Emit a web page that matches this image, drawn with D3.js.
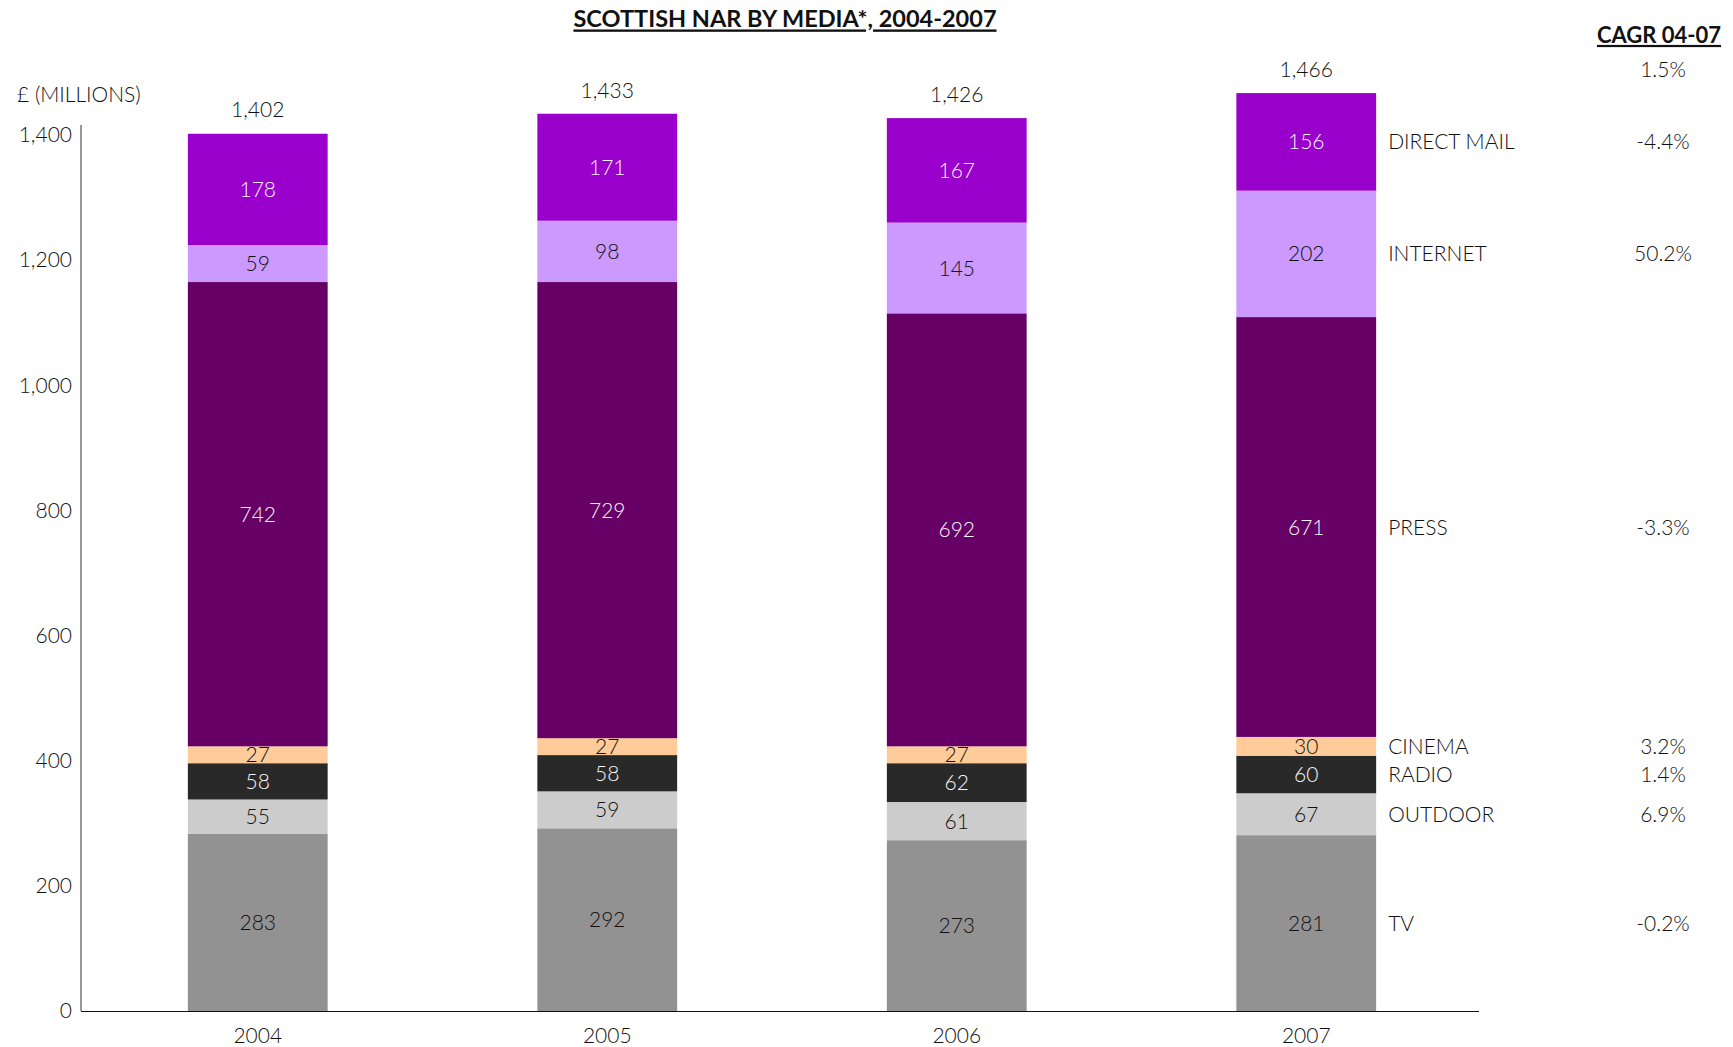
<!DOCTYPE html>
<html>
<head>
<meta charset="utf-8">
<script src="https://cdn.jsdelivr.net/npm/d3@7"></script>
<style>
  html, body { margin: 0; padding: 0; background: #fff; }
  svg { display: block; font-family: Lato, "Open Sans", sans-serif; font-weight: 300; }
</style>
</head>
<body>
<svg id="chart" width="1733" height="1047"></svg>
<script>
// Scottish NAR by media, £ millions
const years = ["2004", "2005", "2006", "2007"];
const media = ["TV", "OUTDOOR", "RADIO", "CINEMA", "PRESS", "INTERNET", "DIRECT MAIL"];
const tv         = [283, 292, 273, 281];
const outdoor    = [55, 59, 61, 67];
const radio      = [58, 58, 62, 60];
const cinema     = [27, 27, 27, 30];
const press      = [742, 729, 692, 671];
const internet   = [59, 98, 145, 202];
const directMail = [178, 171, 167, 156];
const totals     = [1402, 1433, 1426, 1466];
const cagr       = ["-0.2%", "6.9%", "1.4%", "3.2%", "-3.3%", "50.2%", "-4.4%"];
const cagrTotal  = "1.5%";
const yTicks     = [0, 200, 400, 600, 800, 1000, 1200, 1400];

const seriesValues = [tv, outdoor, radio, cinema, press, internet, directMail];
const fills  = ["#929292", "#cccccc", "#292929", "#ffcc99", "#660066", "#cc99ff", "#9900cc"];
const inks   = ["#111111", "#111111", "#f5f5f5", "#111111", "#f5f5f5", "#111111", "#f5f5f5"];

const rows = years.map((yr, i) => {
  const r = { year: yr };
  media.forEach((m, k) => { r[m] = seriesValues[k][i]; });
  return r;
});
const stacked = d3.stack().keys(media)(rows);

const svg = d3.select("#chart");
const plotLeft = 81, plotRight = 1479, plotTop = 125, plotBottom = 1011;
const fs = 21;
const ink = "#111111";

const x = d3.scaleBand().domain(years).range([plotLeft + 2, plotRight + 2]).paddingInner(0.6).paddingOuter(0.3);
const y = d3.scaleLinear().domain([0, 1400]).range([plotBottom, 135]);

// stacked segments
const layer = svg.append("g").selectAll("g").data(stacked).join("g")
  .attr("fill", (d, k) => fills[k]);
layer.selectAll("rect").data(d => d).join("rect")
  .attr("x", d => x(d.data.year))
  .attr("width", x.bandwidth())
  .attr("y", d => y(d[1]))
  .attr("height", d => y(d[0]) - y(d[1]));

// values inside segments
const vl = svg.append("g").attr("font-size", fs).attr("text-anchor", "middle");
stacked.forEach((s, k) => {
  vl.selectAll(null).data(s).join("text")
    .attr("x", d => x(d.data.year) + x.bandwidth() / 2)
    .attr("y", d => y((d[0] + d[1]) / 2))
    .attr("dy", "0.36em")
    .attr("fill", inks[k])
    .text(d => d[1] - d[0]);
});

// totals above bars
svg.append("g").attr("font-size", fs).attr("text-anchor", "middle").attr("fill", ink)
  .selectAll("text").data(years).join("text")
  .attr("x", yr => x(yr) + x.bandwidth() / 2)
  .attr("y", (yr, i) => y(totals[i]) - 24)
  .attr("dy", "0.36em")
  .text((yr, i) => d3.format(",")(totals[i]));

// y axis
const yAxis = svg.append("g").attr("transform", `translate(${plotLeft},0)`)
  .call(d3.axisLeft(y).tickValues(yTicks).tickSize(0).tickPadding(9).tickFormat(d3.format(",")))
  .attr("font-family", null).attr("font-size", fs);
yAxis.select(".domain").remove();
yAxis.selectAll("text").attr("fill", ink);
svg.append("line").attr("x1", plotLeft).attr("x2", plotLeft).attr("y1", plotTop).attr("y2", plotBottom)
  .attr("stroke", "#333").attr("stroke-width", 1);

// x axis
const xAxis = svg.append("g").attr("transform", `translate(0,${plotBottom})`)
  .call(d3.axisBottom(x).tickSize(0).tickPadding(17))
  .attr("font-family", null).attr("font-size", fs);
xAxis.select(".domain").remove();
xAxis.selectAll("text").attr("fill", ink);
svg.append("line").attr("x1", plotLeft).attr("x2", plotRight).attr("y1", plotBottom + 0.5).attr("y2", plotBottom + 0.5)
  .attr("stroke", "#111").attr("stroke-width", 1.2);

// series names and growth rates beside the last bar
const last = years[years.length - 1];
const lastX = x(last) + x.bandwidth();
stacked.forEach((s, k) => {
  const d = s[s.length - 1];
  const cy = y((d[0] + d[1]) / 2);
  svg.append("text").attr("x", lastX + 12).attr("y", cy).attr("dy", "0.36em")
    .attr("font-size", fs).attr("fill", ink).text(media[k]);
  svg.append("text").attr("x", 1663).attr("y", cy).attr("dy", "0.36em")
    .attr("text-anchor", "middle").attr("font-size", fs).attr("fill", ink).text(cagr[k]);
});
svg.append("text").attr("x", 1663).attr("y", y(totals[3]) - 24).attr("dy", "0.36em")
  .attr("text-anchor", "middle").attr("font-size", fs).attr("fill", ink).text(cagrTotal);

// headers
svg.append("text").attr("x", 1659).attr("y", 35).attr("dy", "0.36em")
  .attr("text-anchor", "middle").attr("font-size", 22).attr("font-weight", 700)
  .attr("text-decoration", "underline").attr("fill", "#111").text("CAGR 04-07");
svg.append("text").attr("x", 785).attr("y", 19).attr("dy", "0.36em")
  .attr("text-anchor", "middle").attr("font-size", 23.5).attr("font-weight", 700)
  .attr("text-decoration", "underline").attr("fill", "#111").text("SCOTTISH NAR BY MEDIA*, 2004-2007");
svg.append("text").attr("x", 17).attr("y", 94).attr("dy", "0.36em")
  .attr("font-size", fs).attr("fill", ink).text("£ (MILLIONS)");
</script>
</body>
</html>
